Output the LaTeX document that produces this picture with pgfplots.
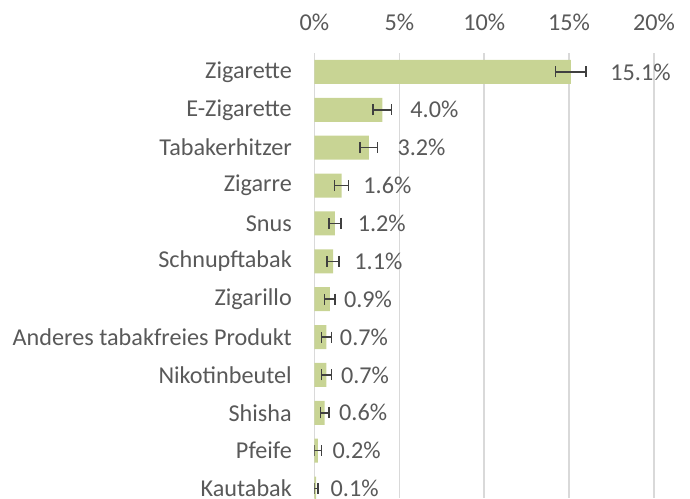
\documentclass[border=0pt]{standalone}
\usepackage{fontspec}
\setmainfont{Carlito}
\usepackage{pgfplots}
\usepackage{pgfplotstable}
\pgfplotsset{compat=1.18}
\definecolor{barc}{HTML}{C8D494}
\definecolor{txt}{HTML}{595959}
\definecolor{gridc}{HTML}{D9D9D9}
\definecolor{errc}{HTML}{404040}

\pgfplotstableread{
idx v e lx
0 15.1 0.9 17.42
1 4.0 0.55 5.64
2 3.2 0.52 4.88
3 1.6 0.41 2.87
4 1.2 0.36 2.54
5 1.1 0.35 2.34
6 0.9 0.32 1.73
7 0.7 0.29 1.49
8 0.7 0.30 1.55
9 0.6 0.25 1.44
10 0.2 0.20 1.06
11 0.1 0.12 0.94
}\data

\begin{document}
\begin{tikzpicture}
\begin{axis}[
  name=ax,
  scale only axis,
  width=339.5pt, height=445pt,
  xmin=0, xmax=20, ymin=-0.5, ymax=11.25,
  y dir=reverse,
  bar width=24pt,
  axis line style={draw=none},
  major tick length=0pt,
  xtick={0,5,10,15,20},
  xticklabel pos=upper,
  xticklabel={\pgfmathprintnumber{\tick}\%},
  /pgf/number format/assume math mode=true,
  xticklabel style={anchor=base, inner sep=0pt, yshift=23pt},
  ytick={0,...,11},
  yticklabels={Zigarette, E-Zigarette, Tabakerhitzer, Zigarre, Snus, Schnupftabak, Zigarillo, Anderes tabakfreies Produkt, Nikotinbeutel, Shisha, Pfeife, Kautabak},
  yticklabel style={anchor=east, inner sep=0pt, xshift=-22.5pt},
  every tick label/.append style={font=\fontsize{24.2}{28}\selectfont, text=txt},
  xmajorgrids,
  grid style={gridc, line width=1.5pt},
  clip=true,
]
\addplot[xbar, fill=barc, draw=none,
  error bars/.cd, x dir=both, x explicit,
  error bar style={errc, line width=1.5pt},
  error mark options={errc, line width=1.5pt, mark size=5.5pt, rotate=90}]
  table[x=v, y=idx, x error=e] {\data};
\addplot[draw=none, mark=none, nodes near coords={\pgfmathprintnumber[fixed, fixed zerofill, precision=1]{\pgfplotspointmeta}\%},
  point meta=explicit,
  every node near coord/.append style={anchor=west, inner sep=0pt, font=\fontsize{24.2}{28}\selectfont, text=txt}]
  table[x=lx, y=idx, meta=v] {\data};
\end{axis}
\pgfresetboundingbox
\path[use as bounding box] ([xshift=-314.5pt]ax.south west) rectangle ([xshift=36pt,yshift=53pt]ax.north east);
\end{tikzpicture}
\end{document}
